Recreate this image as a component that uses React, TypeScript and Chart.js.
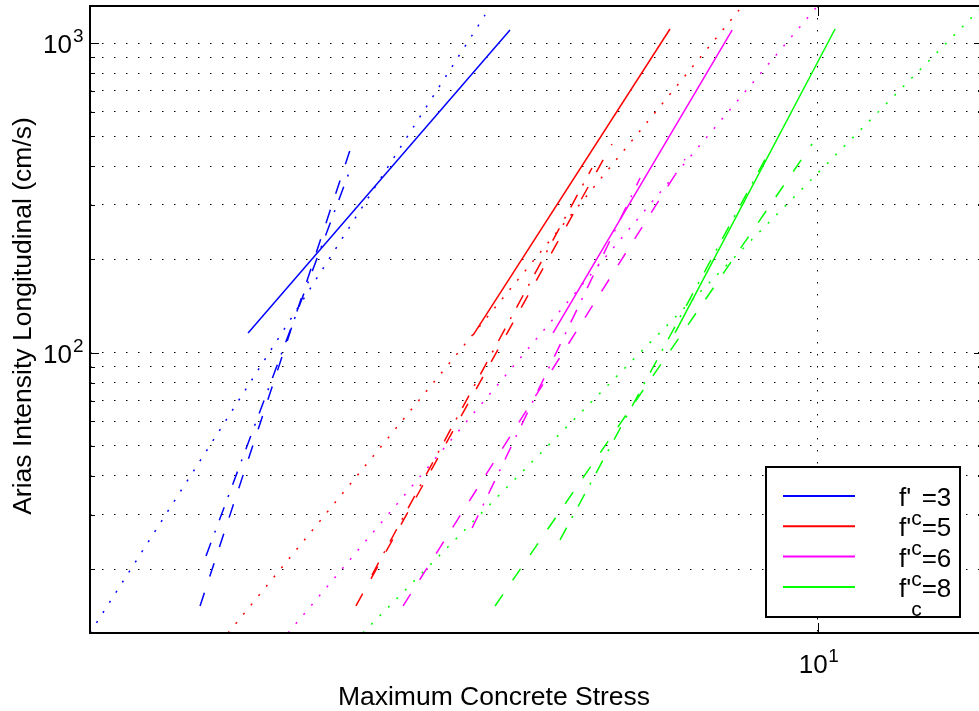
import React, { useEffect, useRef } from "react";
import { Chart, registerables } from "chart.js";

Chart.register(...registerables);

// ---------- data ----------
const xLimits = [2.0, 14.41];
const yLimits = [12.44, 1317];

const xTickValues = [10];
const xTickExponents = ["1"];
const yMajorTickValues = [100, 1000];
const yMajorTickExponents = ["2", "3"];
const yMinorTickValues = [20, 30, 40, 50, 60, 70, 80, 90, 200, 300, 400, 500, 600, 700, 800, 900];

const seriesValues = ["3", "5", "6", "8"];
const seriesColors = ["#0000ff", "#ff0000", "#ff00ff", "#00ff00"];

// f'c = 3
const fc3SolidX = [2.837, 5.063];
const fc3SolidY = [115.8, 1101.6];
const fc3DashedX = [2.551, 3.57];
const fc3DashedY = [15.21, 472.0];
const fc3DashDotX = [2.585, 3.554];
const fc3DashDotY = [22.06, 389.0];
const fc3DottedX = [2.0, 4.791];
const fc3DottedY = [12.44, 1231.5];

// f'c = 5
const fc5SolidX = [4.666, 7.212];
const fc5SolidY = [114.0, 1109.8];
const fc5DashedX = [3.601, 6.343];
const fc5DashedY = [15.21, 472.0];
const fc5DashDotX = [3.731, 6.069];
const fc5DashDotY = [19.15, 394.9];
const fc5DottedX = [2.714, 8.403];
const fc5DottedY = [12.44, 1278.3];

// f'c = 6
const fc6SolidX = [5.569, 8.274];
const fc6SolidY = [115.8, 1101.6];
const fc6DashedX = [3.997, 7.456];
const fc6DashedY = [15.21, 422.1];
const fc6DashDotX = [4.656, 6.75];
const fc6DashDotY = [27.16, 366.6];
const fc6DottedX = [3.099, 9.956];
const fc6DottedY = [12.44, 1297.3];

// f'c = 8
const fc8SolidX = [7.293, 10.39];
const fc8SolidY = [115.8, 1109.8];
const fc8DashedX = [4.898, 9.875];
const fc8DashedY = [15.21, 472.0];
const fc8DashDotX = [5.655, 9.0];
const fc8DashDotY = [24.85, 451.3];
const fc8DottedX = [3.656, 14.41];
const fc8DottedY = [12.44, 1316.9];

const xLabel = "Maximum Concrete Stress";
const yLabel = "Arias Intensity Longitudinal (cm/s)";

// ---------- styling ----------
const FONT = '"Liberation Sans", Arial, Helvetica, sans-serif';
const DASHED = [14, 17];
const DASHDOT = [14, 11, 2, 11];
const DOTTED = [2, 10];

const groups = [
  { solid: [fc3SolidX, fc3SolidY], dashed: [fc3DashedX, fc3DashedY], dashdot: [fc3DashDotX, fc3DashDotY], dotted: [fc3DottedX, fc3DottedY] },
  { solid: [fc5SolidX, fc5SolidY], dashed: [fc5DashedX, fc5DashedY], dashdot: [fc5DashDotX, fc5DashDotY], dotted: [fc5DottedX, fc5DottedY] },
  { solid: [fc6SolidX, fc6SolidY], dashed: [fc6DashedX, fc6DashedY], dashdot: [fc6DashDotX, fc6DashDotY], dotted: [fc6DottedX, fc6DottedY] },
  { solid: [fc8SolidX, fc8SolidY], dashed: [fc8DashedX, fc8DashedY], dashdot: [fc8DashDotX, fc8DashDotY], dotted: [fc8DottedX, fc8DottedY] },
];

function pts(xy: number[][]) {
  return xy[0].map((x, i) => ({ x, y: xy[1][i] }));
}

const framePlugin = {
  id: "matlabFrame",
  afterDraw(chart: any) {
    const { ctx, chartArea: a, scales } = chart;
    const xs = scales.x;
    const ys = scales.y;
    ctx.save();
    ctx.strokeStyle = "#000";
    ctx.fillStyle = "#000";
    const line = (x0: number, y0: number, x1: number, y1: number) => {
      ctx.beginPath();
      ctx.moveTo(x0, y0);
      ctx.lineTo(x1, y1);
      ctx.stroke();
    };
    // ticks
    ctx.lineWidth = 1;
    for (const v of yMinorTickValues) {
      const y = Math.round(ys.getPixelForValue(v)) + 0.5;
      line(a.left, y, a.left + 5, y);
      line(a.right, y, a.right - 5, y);
    }
    for (const v of yMajorTickValues) {
      const y = Math.round(ys.getPixelForValue(v)) + 0.5;
      line(a.left, y, a.left + 9, y);
      line(a.right, y, a.right - 9, y);
    }
    for (const v of xTickValues) {
      const x = Math.round(xs.getPixelForValue(v)) + 0.5;
      line(x, a.bottom, x, a.bottom - 10);
      line(x, a.top, x, a.top + 10);
    }
    // axes box
    ctx.lineWidth = 2;
    ctx.strokeRect(a.left, a.top, a.right - a.left, a.bottom - a.top);

    // tick labels
    ctx.textBaseline = "alphabetic";
    yMajorTickValues.forEach((v, i) => {
      const y = ys.getPixelForValue(v);
      ctx.font = `26px ${FONT}`;
      ctx.textAlign = "right";
      ctx.fillText("10", 72, y + 10);
      ctx.font = `19px ${FONT}`;
      ctx.textAlign = "left";
      ctx.fillText(yMajorTickExponents[i], 73, y - 1);
    });
    xTickValues.forEach((v, i) => {
      const x = xs.getPixelForValue(v);
      ctx.font = `26px ${FONT}`;
      ctx.textAlign = "right";
      ctx.fillText("10", x + 10, a.bottom + 40);
      ctx.font = `19px ${FONT}`;
      ctx.textAlign = "left";
      ctx.fillText(xTickExponents[i], x + 10.5, a.bottom + 29);
    });

    // axis titles
    ctx.font = `26.5px ${FONT}`;
    ctx.textAlign = "center";
    ctx.fillText(xLabel, 494, 705);
    ctx.save();
    ctx.translate(31, 316);
    ctx.rotate(-Math.PI / 2);
    ctx.fillText(yLabel, 0, 0);
    ctx.restore();

    // legend
    const lx = 766, ly = 467, lw = 194, lh = 150;
    ctx.fillStyle = "#fff";
    ctx.fillRect(lx, ly, lw, lh);
    ctx.lineWidth = 2;
    ctx.strokeStyle = "#000";
    ctx.strokeRect(lx, ly, lw, lh);
    seriesValues.forEach((val, i) => {
      const y = 496 + i * 30.3;
      ctx.strokeStyle = seriesColors[i];
      ctx.lineWidth = 2;
      line(783, y, 855, y);
      ctx.fillStyle = "#000";
      ctx.textAlign = "left";
      ctx.font = `26px ${FONT}`;
      let x = 899;
      ctx.fillText("f'", x, y + 10);
      x += ctx.measureText("f'").width;
      ctx.font = `21px ${FONT}`;
      ctx.fillText("c", x, y + 29);
      x += ctx.measureText("c").width;
      ctx.font = `26px ${FONT}`;
      ctx.fillText("=" + val, x, y + 10);
    });
    ctx.restore();
  },
};

export default function App() {
  const ref = useRef<HTMLCanvasElement | null>(null);
  useEffect(() => {
    document.body.style.margin = "0";
    const canvas = ref.current;
    if (!canvas) return;
    const datasets: any[] = [];
    groups.forEach((g, i) => {
      const c = seriesColors[i];
      datasets.push({ label: "f'c=" + seriesValues[i], data: pts(g.solid), borderColor: c, borderWidth: 1.5, borderDash: [] });
      datasets.push({ label: "dashed", data: pts(g.dashed), borderColor: c, borderWidth: 1.5, borderDash: DASHED });
      datasets.push({ label: "dashdot", data: pts(g.dashdot), borderColor: c, borderWidth: 1.5, borderDash: DASHDOT });
      datasets.push({ label: "dotted", data: pts(g.dotted), borderColor: c, borderWidth: 1.5, borderDash: DOTTED });
    });
    datasets.forEach((d) => {
      d.pointRadius = 0;
      d.fill = false;
      d.tension = 0;
      d.showLine = true;
    });
    const chart = new Chart(canvas, {
      type: "line",
      data: { datasets },
      options: {
        animation: false,
        responsive: false,
        devicePixelRatio: 1,
        layout: { padding: { left: 90, top: 6, right: 12, bottom: 78 } },
        plugins: { legend: { display: false }, tooltip: { enabled: false } },
        events: [],
        scales: {
          x: {
            type: "logarithmic",
            min: xLimits[0],
            max: xLimits[1],
            afterBuildTicks: (s: any) => {
              s.ticks = xTickValues.map((v) => ({ value: v, major: true }));
            },
            ticks: { display: false },
            grid: { drawTicks: false, color: "#000", lineWidth: 1 },
            border: { display: false, dash: [1.5, 10.5] },
            title: { display: false },
          },
          y: {
            type: "logarithmic",
            min: yLimits[0],
            max: yLimits[1],
            afterBuildTicks: (s: any) => {
              s.ticks = [...yMinorTickValues, ...yMajorTickValues]
                .sort((p, q) => p - q)
                .map((v) => ({ value: v }));
            },
            ticks: { display: false },
            grid: { drawTicks: false, color: "#000", lineWidth: 1 },
            border: { display: false, dash: [1.5, 10.5] },
            title: { display: false },
          },
        },
      },
      plugins: [framePlugin],
    });
    return () => chart.destroy();
  }, []);
  return (
    <div style={{ position: "fixed", left: 0, top: 0, width: 979, height: 711, overflow: "hidden", background: "#fff" }}>
      <canvas ref={ref} width={995} height={711} style={{ display: "block", width: 995, height: 711 }} />
    </div>
  );
}
